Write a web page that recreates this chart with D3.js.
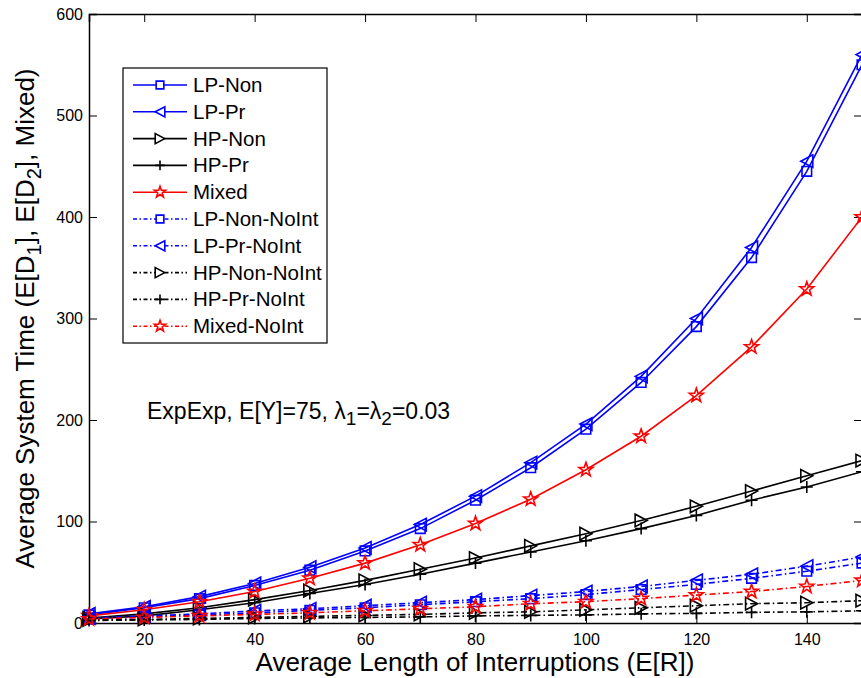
<!DOCTYPE html>
<html><head><meta charset="utf-8">
<script src="https://cdn.jsdelivr.net/npm/d3@7"></script>
<style>
body{margin:0;background:#fff;}
text{font-family:Arial,"Liberation Sans",Helvetica,sans-serif;}
</style></head>
<body><svg id="c" width="861" height="678"></svg>
<script>
const xValues = [10,20,30,40,50,60,70,80,90,100,110,120,130,140,150];
const lpNon      = [8,15,24,37,52,71,93,121,153,191,237,292,360,445,550];
const lpPr       = [9,16,26,39,55,74,97,125,158,196,243,300,370,455,560];
const hpNon      = [5,9,15,23,32,42,53,64,76,88,101,115,130,145,160];
const hpPr       = [4,7,13,20,29,38,48,59,70,81,93,106,121,134,149];
const mixed      = [7,13,21,31,44,59,77,98,122,151,184,224,272,329,400];
const lpNonNoInt = [4,6,8,10,12.5,15,18,21,24,28,33,38,44,51,59];
const lpPrNoInt  = [5,7,9,12,14,17,20,23,27,31,36,42,48,56,65];
const hpNonNoInt = [3,3.5,4.5,5.5,6.5,7.5,8.5,10,11,13,15,17,19,20,22];
const hpPrNoInt  = [2.5,3,3.5,4.5,5,5.5,6,7,7.5,8,9,9.5,10.5,11,12];
const mixedNoInt = [4,5.5,7,8.5,10,12,14,16,19,21,24,27.5,31,36,42];
const seriesNames = ["LP-Non","LP-Pr","HP-Non","HP-Pr","Mixed","LP-Non-NoInt","LP-Pr-NoInt","HP-Non-NoInt","HP-Pr-NoInt","Mixed-NoInt"];
const seriesValues = [lpNon,lpPr,hpNon,hpPr,mixed,lpNonNoInt,lpPrNoInt,hpNonNoInt,hpPrNoInt,mixedNoInt];
const seriesColors = ["#0000ff","#0000ff","#000000","#000000","#ff0000","#0000ff","#0000ff","#000000","#000000","#ff0000"];
const seriesMarkers = ["square","triLeft","triRight","plus","star","square","triLeft","triRight","plus","star"];
const seriesDashed = [false,false,false,false,false,true,true,true,true,true];
const xTicks = [20,40,60,80,100,120,140];
const yTicks = [0,100,200,300,400,500,600];

const svg = d3.select("#c");
const L=89, R=862, T=14, B=623;
const x = d3.scaleLinear().domain([10,150]).range([L,R]);
const y = d3.scaleLinear().domain([0,600]).range([B,T]);

// axes
const fs = 16;
const ax = svg.append("g").attr("transform",`translate(0,${B})`)
  .call(d3.axisBottom(x).tickValues(xTicks).tickSize(-8).tickPadding(11));
const ay = svg.append("g").attr("transform",`translate(${L},0)`)
  .call(d3.axisLeft(y).tickValues(yTicks).tickSize(-8).tickPadding(6));
const at = svg.append("g").attr("transform",`translate(0,${T})`)
  .call(d3.axisTop(x).tickValues(xTicks).tickSize(-8).tickFormat(""));
const ar = svg.append("g").attr("transform",`translate(${R},0)`)
  .call(d3.axisRight(y).tickValues(yTicks).tickSize(-8).tickFormat(""));
[ax,ay,at,ar].forEach(g=>{
  g.select(".domain").attr("stroke","#000").attr("stroke-width",1.5);
  g.selectAll(".tick line").attr("stroke","#000").attr("stroke-width",1);
  g.selectAll(".tick text").attr("font-size",fs).attr("fill","#000").attr("font-family","Arial, 'Liberation Sans', sans-serif");
});

function markerPath(type, s){
  const h=s/2;
  switch(type){
    case "square": return `M${-h*0.8},${-h*0.8}H${h*0.8}V${h*0.8}H${-h*0.8}Z`;
    case "triLeft": return `M${-h},0L${h},${-h*1.05}L${h},${h*1.05}Z`;
    case "triRight": return `M${h},0L${-h},${-h*1.05}L${-h},${h*1.05}Z`;
    case "plus": return `M${-h},0H${h}M0,${-h}V${h}`;
    case "star": {
      let p="";
      for(let i=0;i<10;i++){
        const r = i%2===0 ? h*1.05 : h*0.42;
        const a = -Math.PI/2 + i*Math.PI/5;
        p += (i===0?"M":"L")+(r*Math.cos(a)).toFixed(2)+","+(r*Math.sin(a)).toFixed(2);
      }
      return p+"Z";
    }
  }
}
const markerSize = {square:12,triLeft:12,triRight:12,plus:12,star:14};

const line = d3.line().x((d,i)=>x(xValues[i])).y(d=>y(d));
const plot = svg.append("g");
seriesValues.forEach((vals,k)=>{
  const g = plot.append("g");
  g.append("path").attr("d",line(vals)).attr("fill","none")
    .attr("stroke",seriesColors[k]).attr("stroke-width",1.6)
    .attr("stroke-dasharray",seriesDashed[k]?"6,3,1.5,3":null);
  g.selectAll("path.m").data(vals).enter().append("path").attr("class","m")
    .attr("transform",(d,i)=>`translate(${x(xValues[i])},${y(d)})`)
    .attr("d",markerPath(seriesMarkers[k],markerSize[seriesMarkers[k]]))
    .attr("fill","none").attr("stroke",seriesColors[k]).attr("stroke-width",1.6);
});

// legend
const lg = svg.append("g");
lg.append("rect").attr("x",123).attr("y",68).attr("width",204).attr("height",275)
  .attr("fill","#fff").attr("stroke","#000").attr("stroke-width",1.2);
seriesNames.forEach((n,k)=>{
  const yy = 85 + k*26.8;
  lg.append("line").attr("x1",133).attr("x2",187).attr("y1",yy).attr("y2",yy)
    .attr("stroke",seriesColors[k]).attr("stroke-width",1.6)
    .attr("stroke-dasharray",seriesDashed[k]?"4,2.5,1.5,2.5":null);
  lg.append("path").attr("transform",`translate(160,${yy})`)
    .attr("d",markerPath(seriesMarkers[k],markerSize[seriesMarkers[k]]*0.8))
    .attr("fill","#fff").attr("stroke",seriesColors[k]).attr("stroke-width",1.6);
  lg.append("text").attr("x",193).attr("y",yy+7).attr("font-size",20.5).attr("fill","#000").text(n);
});

// annotation
const ann = svg.append("text").attr("x",147).attr("y",419).attr("font-size",23).attr("fill","#000");
ann.append("tspan").text("ExpExp, E[Y]=75, λ");
ann.append("tspan").attr("font-size",19).attr("dy",6).text("1");
ann.append("tspan").attr("dy",-6).text("=λ");
ann.append("tspan").attr("font-size",19).attr("dy",6).text("2");
ann.append("tspan").attr("dy",-6).text("=0.03");

// axis labels
svg.append("text").attr("x",475).attr("y",671).attr("text-anchor","middle")
  .attr("font-size",26).attr("fill","#000").text("Average Length of Interruptions (E[R])");
const yl = svg.append("text").attr("transform",`translate(34,${(T+B)/2}) rotate(-90)`)
  .attr("text-anchor","middle").attr("font-size",26).attr("fill","#000");
yl.append("tspan").text("Average System Time (E[D");
yl.append("tspan").attr("font-size",20).attr("dy",7).text("1");
yl.append("tspan").attr("dy",-7).text("], E[D");
yl.append("tspan").attr("font-size",20).attr("dy",7).text("2");
yl.append("tspan").attr("dy",-7).text("], Mixed)");
</script></body></html>
